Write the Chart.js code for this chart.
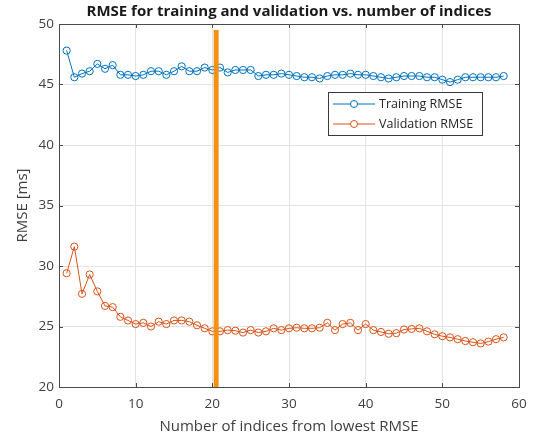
<!DOCTYPE html>
<html>
<head>
<meta charset="utf-8">
<script src="https://cdn.jsdelivr.net/npm/chart.js@4.4.1/dist/chart.umd.min.js"></script>
<style>
  html, body { margin: 0; padding: 0; background: #fff; }
  #wrap { width: 536px; height: 439px; }
</style>
</head>
<body>
<div id="wrap"><canvas id="rmseChart" width="536" height="439"></canvas></div>
<script>
// number of indices used (1..58)
const indices = Array.from({ length: 58 }, (_, i) => i + 1);

const trainingRmse = [
  47.8, 45.6, 45.9, 46.1, 46.7, 46.3, 46.6, 45.8, 45.8, 45.7,
  45.8, 46.1, 46.1, 45.8, 46.1, 46.5, 46.1, 46.1, 46.4, 46.2,
  46.4, 46.0, 46.2, 46.2, 46.2, 45.7, 45.8, 45.8, 45.9, 45.8,
  45.7, 45.6, 45.6, 45.5, 45.7, 45.8, 45.8, 45.9, 45.8, 45.8,
  45.7, 45.6, 45.5, 45.6, 45.7, 45.7, 45.7, 45.6, 45.6, 45.4,
  45.2, 45.4, 45.6, 45.6, 45.6, 45.6, 45.6, 45.7
];

const validationRmse = [
  29.4, 31.6, 27.7, 29.3, 27.9, 26.7, 26.6, 25.8, 25.5, 25.2,
  25.3, 25.0, 25.4, 25.2, 25.5, 25.5, 25.4, 25.1, 24.85, 24.6,
  24.6, 24.7, 24.65, 24.5, 24.7, 24.5, 24.6, 24.85, 24.7, 24.85,
  24.9, 24.85, 24.85, 24.9, 25.3, 24.7, 25.2, 25.3, 24.7, 25.2,
  24.7, 24.55, 24.4, 24.45, 24.75, 24.8, 24.85, 24.6, 24.35, 24.2,
  24.1, 23.95, 23.8, 23.7, 23.6, 23.75, 23.95, 24.1
];

// chosen number of indices, drawn as a vertical bar
const selectedIndex = [20.5, 20.5];
const selectedRange = [20, 49.5];

const xTicks = [0, 10, 20, 30, 40, 50, 60];
const yTicks = [20, 25, 30, 35, 40, 45, 50];

const chartTitle = 'RMSE for training and validation vs. number of indices';
const seriesLabels = ['Training RMSE', 'Validation RMSE'];
const blue = '#0072BD';
const orange = '#D95319';
const markerOrange = '#F39214';
const FONT = '"Open Sans", "Noto Sans", sans-serif';

function toPoints(xs, ys) {
  return xs.map((x, i) => ({ x: x, y: ys[i] }));
}

// title over the plot, box around the axes, inward tick marks and the legend
const matlabAxes = {
  id: 'matlabAxes',
  afterDraw(chart) {
    const { ctx, chartArea: a, scales } = chart;
    ctx.save();

    ctx.fillStyle = '#1a1a1a';
    ctx.font = 'bold 15px ' + FONT;
    ctx.textAlign = 'center';
    ctx.textBaseline = 'middle';
    ctx.fillText(chartTitle, (a.left + a.right) / 2, 12);

    ctx.strokeStyle = '#4a4a4a';
    ctx.lineWidth = 1;
    ctx.beginPath();
    xTicks.forEach(v => {
      const px = Math.round(scales.x.getPixelForValue(v)) + 0.5;
      ctx.moveTo(px, a.bottom); ctx.lineTo(px, a.bottom - 4);
      ctx.moveTo(px, a.top); ctx.lineTo(px, a.top + 4);
    });
    yTicks.forEach(v => {
      const py = Math.round(scales.y.getPixelForValue(v)) + 0.5;
      ctx.moveTo(a.left, py); ctx.lineTo(a.left + 4, py);
      ctx.moveTo(a.right, py); ctx.lineTo(a.right - 4, py);
    });
    ctx.stroke();
    ctx.strokeRect(Math.round(a.left) + 0.5, Math.round(a.top) + 0.5,
      Math.round(a.right - a.left), Math.round(a.bottom - a.top));

    // legend
    const lx = 328, ly = 92, lw = 154, lh = 43;
    ctx.fillStyle = '#fff';
    ctx.fillRect(lx, ly, lw, lh);
    ctx.strokeStyle = '#3a3a3a';
    ctx.strokeRect(lx + 0.5, ly + 0.5, lw, lh);
    const colors = [blue, orange];
    seriesLabels.forEach((label, i) => {
      const y = ly + 12 + i * 20;
      ctx.strokeStyle = colors[i];
      ctx.lineWidth = 1;
      ctx.beginPath();
      ctx.moveTo(lx + 5, y); ctx.lineTo(lx + 47, y);
      ctx.stroke();
      ctx.beginPath();
      ctx.arc(lx + 26, y, 3.5, 0, Math.PI * 2);
      ctx.fillStyle = '#fff';
      ctx.fill();
      ctx.stroke();
      ctx.fillStyle = '#262626';
      ctx.font = '12.5px ' + FONT;
      ctx.textAlign = 'left';
      ctx.fillText(label, lx + 51, y);
    });
    ctx.restore();
  }
};

new Chart(document.getElementById('rmseChart'), {
  type: 'line',
  data: {
    datasets: [
      {
        label: 'selected',
        data: toPoints(selectedIndex, selectedRange),
        borderColor: markerOrange,
        borderWidth: 5,
        pointRadius: 0,
        order: 0
      },
      {
        label: seriesLabels[0],
        data: toPoints(indices, trainingRmse),
        borderColor: blue,
        borderWidth: 1,
        pointRadius: 3.6,
        pointBorderWidth: 1,
        pointBorderColor: blue,
        pointBackgroundColor: 'rgba(255,255,255,0)',
        order: 1
      },
      {
        label: seriesLabels[1],
        data: toPoints(indices, validationRmse),
        borderColor: orange,
        borderWidth: 1,
        pointRadius: 3.6,
        pointBorderWidth: 1,
        pointBorderColor: orange,
        pointBackgroundColor: 'rgba(255,255,255,0)',
        order: 1
      }
    ]
  },
  options: {
    responsive: false,
    animation: false,
    layout: { padding: { left: 0, right: 17, top: 24, bottom: 0 } },
    plugins: {
      legend: { display: false },
      tooltip: { enabled: false },
      title: { display: false }
    },
    scales: {
      x: {
        type: 'linear',
        min: 0,
        max: 60,
        afterBuildTicks: s => { s.ticks = xTicks.map(v => ({ value: v })); },
        afterFit: s => { s.height = 52; },
        grid: { color: '#e3e3e3', drawTicks: false },
        border: { display: false },
        ticks: { color: '#404040', padding: 9, font: { family: FONT, size: 13.5 } },
        title: {
          display: true,
          text: 'Number of indices from lowest RMSE',
          color: '#404040',
          font: { family: FONT, size: 15 },
          padding: { top: 0, bottom: 3 }
        }
      },
      y: {
        type: 'linear',
        min: 20,
        max: 50,
        afterBuildTicks: s => { s.ticks = yTicks.map(v => ({ value: v })); },
        afterFit: s => { s.width = 59; },
        grid: { color: '#e3e3e3', drawTicks: false },
        border: { display: false },
        ticks: { color: '#404040', padding: 5, font: { family: FONT, size: 13.5 } },
        title: {
          display: true,
          text: 'RMSE [ms]',
          color: '#404040',
          font: { family: FONT, size: 15 },
          padding: { top: 14, bottom: 0 }
        }
      }
    }
  },
  plugins: [matlabAxes]
});
</script>
</body>
</html>
